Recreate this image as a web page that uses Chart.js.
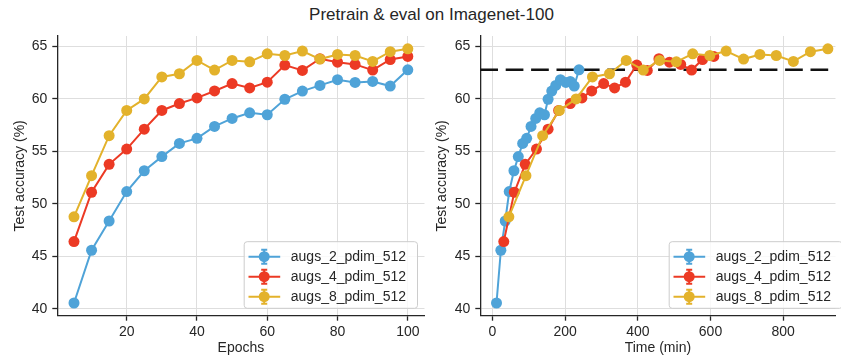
<!DOCTYPE html>
<html>
<head>
<meta charset="utf-8">
<script src="https://cdn.jsdelivr.net/npm/chart.js@4.4.1/dist/chart.umd.min.js"></script>
<style>
  html, body { margin: 0; padding: 0; background: #fff; overflow: hidden; }
  #wrap { position: relative; width: 841px; height: 362px; overflow: hidden; }
  #title {
    position: absolute; top: 5px; left: 131.5px; width: 600px;
    text-align: center; color: #262626;
    font: 17px "Liberation Sans", Arial, sans-serif;
  }
  canvas { position: absolute; top: 0; }
  #epochChart { left: 0; }
  #timeChart { left: 420px; }
</style>
</head>
<body>
<div id="wrap">
  <div id="title">Pretrain &amp; eval on Imagenet-100</div>
  <canvas id="epochChart" width="430" height="362"></canvas>
  <canvas id="timeChart" width="421" height="362"></canvas>
</div>
<script>
// values
const seriesLabels = ["augs_2_pdim_512", "augs_4_pdim_512", "augs_8_pdim_512"];
const seriesColors = ["#4fa3d8", "#ec3a24", "#e3b22b"];

const epochs = [5, 10, 15, 20, 25, 30, 35, 40, 45, 50, 55, 60, 65, 70, 75, 80, 85, 90, 95, 100];

const augs2Acc = [40.54, 45.57, 48.36, 51.17, 53.15, 54.50, 55.76, 56.24, 57.38, 58.14,
                  58.68, 58.49, 59.97, 60.75, 61.29, 61.83, 61.57, 61.67, 61.23, 62.78];
const augs4Acc = [46.40, 51.10, 53.76, 55.22, 57.12, 58.90, 59.56, 60.10, 60.76, 61.46,
                  61.05, 61.60, 63.23, 62.72, 63.83, 63.50, 63.29, 62.75, 63.76, 64.05];
const augs8Acc = [48.76, 52.68, 56.50, 58.90, 60.00, 62.10, 62.40, 63.67, 62.75, 63.67,
                  63.54, 64.30, 64.14, 64.56, 63.80, 64.24, 64.14, 63.57, 64.50, 64.78];

// wall-clock minutes at each eval point
const augs2Time = [11, 23, 35, 46, 59, 71, 83, 94, 106, 119, 130, 143, 153, 163, 174, 187, 202, 214, 225, 238];
const augs4Time = [31, 60, 90, 121, 153, 182, 214, 246, 273, 306, 336, 366, 397, 426, 458, 487, 518, 548, 578, 609];
const augs8Time = [45, 92, 138, 184, 230, 275, 322, 368, 415, 460, 506, 551, 598, 643, 691, 736, 781, 828, 875, 923];

const accTicks = [40, 45, 50, 55, 60, 65];
const epochTicks = [20, 40, 60, 80, 100];
const timeTicks = [0, 200, 400, 600, 800];

// best accuracy of the 2-aug run, drawn as the dashed reference
const refAcc = Math.max(...augs2Acc);

const INK = "#262626";
Chart.defaults.font.family = '"Liberation Sans", Arial, sans-serif';
Chart.defaults.font.size = 14;
Chart.defaults.color = INK;

const insetLegend = {
    id: "insetLegend",
    afterDraw(chart, args, opts) {
        const { ctx, chartArea } = chart;
        const w = 173.3, h = 66.6;
        const right = chartArea.right - opts.inset;
        const bottom = chartArea.bottom - 7.4;
        const left = right - w, top = bottom - h;
        ctx.save();
        ctx.beginPath();
        ctx.roundRect(left, top, w, h, 3);
        ctx.fillStyle = "rgba(255,255,255,0.8)";
        ctx.fill();
        ctx.strokeStyle = "#cccccc";
        ctx.lineWidth = 1;
        ctx.stroke();
        chart.data.datasets.forEach((ds, i) => {
            const y = top + 15 + i * 20;
            const cx = left + 20;
            ctx.strokeStyle = ds.borderColor;
            ctx.fillStyle = ds.borderColor;
            ctx.lineWidth = 2;
            ctx.beginPath();
            ctx.moveTo(left + 4.3, y);
            ctx.lineTo(left + 36, y);
            ctx.moveTo(cx, y - 7);
            ctx.lineTo(cx, y + 7);
            ctx.moveTo(cx - 3, y - 7);
            ctx.lineTo(cx + 3, y - 7);
            ctx.moveTo(cx - 3, y + 7);
            ctx.lineTo(cx + 3, y + 7);
            ctx.stroke();
            ctx.beginPath();
            ctx.arc(cx, y, 5.5, 0, Math.PI * 2);
            ctx.fill();
            ctx.fillStyle = INK;
            ctx.font = '14px "Liberation Sans", Arial, sans-serif';
            ctx.textBaseline = "middle";
            ctx.fillText(ds.label, left + 46.6, y);
        });
        ctx.restore();
    },
};

const refLine = {
    id: "refLine",
    beforeDatasetsDraw(chart, args, opts) {
        if (opts.value == null) return;
        const { ctx, chartArea, scales } = chart;
        const y = scales.y.getPixelForValue(opts.value);
        ctx.save();
        ctx.strokeStyle = "#111111";
        ctx.lineWidth = 2.6;
        ctx.setLineDash([17.7, 7.7]);
        ctx.beginPath();
        ctx.moveTo(chartArea.left, y);
        ctx.lineTo(chartArea.right, y);
        ctx.stroke();
        ctx.restore();
    },
};

function axisStyle(ticks, titleText) {
    return {
        type: "linear",
        afterBuildTicks: (s) => { s.ticks = ticks.map((v) => ({ value: v })); },
        grid: { color: "#dedede", lineWidth: 1, tickLength: 5, tickColor: INK, tickWidth: 1.3 },
        border: { color: INK, width: 1.3 },
        ticks: { color: INK, autoSkip: false, maxRotation: 0 },
        title: { display: true, text: titleText, color: INK },
    };
}

function makeChart(id, xsList, opts) {
    const datasets = seriesLabels.map((label, i) => ({
        label: label,
        data: xsList[i].map((x, j) => ({ x: x, y: [augs2Acc, augs4Acc, augs8Acc][i][j] })),
        borderColor: seriesColors[i],
        backgroundColor: seriesColors[i],
        pointBackgroundColor: seriesColors[i],
        pointBorderWidth: 0,
        pointRadius: 5.5,
        pointHoverRadius: 5.5,
        borderWidth: 2,
        tension: 0,
        clip: false,
        order: seriesLabels.length - i,
    }));

    const x = axisStyle(opts.xTicks, opts.xTitle);
    x.min = opts.xMin;
    x.max = opts.xMax;
    x.ticks.padding = 3;
    x.title.padding = { top: 0, bottom: 5.6 };
    x.afterFit = (s) => { s.height = 46.3; };

    const y = axisStyle(accTicks, "Test accuracy (%)");
    y.min = 39.33;
    y.max = 66.0;
    y.ticks.padding = 5;
    y.title.padding = { top: opts.yTitlePad, bottom: 0 };
    y.afterFit = (s) => { s.width = opts.yWidth; };

    return new Chart(document.getElementById(id), {
        type: "line",
        data: { datasets: datasets },
        options: {
            responsive: false,
            devicePixelRatio: 1,
            animation: false,
            layout: { padding: { top: 36, right: opts.padRight, bottom: 0, left: 0 } },
            plugins: {
                legend: { display: false },
                tooltip: { enabled: false },
                insetLegend: { inset: opts.legendInset },
                refLine: { value: opts.refValue },
            },
            scales: { x: x, y: y },
        },
        plugins: [refLine, insetLegend],
    });
}

makeChart("epochChart", [epochs, epochs, epochs], {
    xTicks: epochTicks, xTitle: "Epochs", xMin: 0.25, xMax: 104.75,
    yWidth: 57.3, yTitlePad: 11.6, padRight: 3, legendInset: 7, refValue: null,
});

makeChart("timeChart", [augs2Time, augs4Time, augs8Time], {
    xTicks: timeTicks, xTitle: "Time (min)", xMin: -33.6, xMax: 944,
    yWidth: 60.3, yTitlePad: 13.3, padRight: 0, legendInset: -7, refValue: refAcc,
});
</script>
</body>
</html>
